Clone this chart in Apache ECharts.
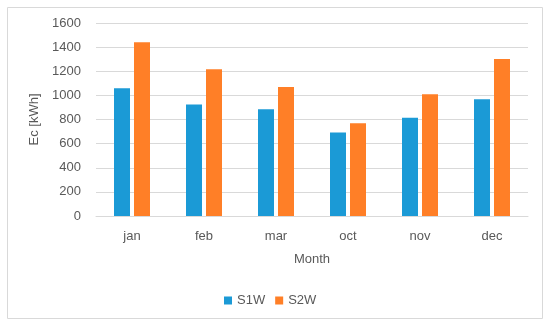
<!DOCTYPE html>
<html><head><meta charset="utf-8">
<script src="https://cdn.jsdelivr.net/npm/echarts@6/dist/echarts.min.js"></script>
<style>html,body{margin:0;padding:0;background:#fff}#c{width:550px;height:326px}</style>
</head><body><div id="c"></div>
<script>
const categories = ['jan','feb','mar','oct','nov','dec'];
const s1w = [1060, 925, 885, 693, 815, 967];
const s2w = [1440, 1216, 1070, 768, 1010, 1302];
const yTicks = {min: 0, max: 1600, interval: 200};
const font = 'Liberation Sans, Arial, sans-serif';
const chart = echarts.init(document.getElementById('c'));
chart.setOption({
  animation: false,
  graphic: [{type: 'rect', shape: {x: 7.5, y: 7.5, width: 535, height: 311}, style: {fill: 'none', stroke: '#D9D9D9', lineWidth: 1}}],
  grid: {left: 96, right: 22, top: 23, bottom: 110},
  legend: {
    data: ['S1W','S2W'], left: 219, top: 289, itemWidth: 8, itemHeight: 8, itemGap: 10,
    icon: 'rect', textStyle: {color: '#595959', fontSize: 13, fontFamily: font}
  },
  xAxis: {
    type: 'category', data: categories,
    name: 'Month', nameLocation: 'middle', nameGap: 37,
    nameTextStyle: {color: '#595959', fontSize: 13, fontFamily: font},
    axisLine: {lineStyle: {color: '#D9D9D9'}}, axisTick: {show: false},
    axisLabel: {color: '#595959', fontSize: 13, fontFamily: font, margin: 14}
  },
  yAxis: {
    type: 'value', min: yTicks.min, max: yTicks.max, interval: yTicks.interval,
    name: 'Ec [kWh]', nameLocation: 'middle', nameGap: 55,
    nameTextStyle: {color: '#595959', fontSize: 13, fontFamily: font},
    axisLine: {show: false}, axisTick: {show: false},
    axisLabel: {color: '#595959', fontSize: 13, fontFamily: font, margin: 15, formatter: v => String(v)},
    splitLine: {lineStyle: {color: '#D9D9D9'}}
  },
  series: [
    {name: 'S1W', type: 'bar', data: s1w, barWidth: 16, barGap: '25%', itemStyle: {color: '#1B9AD6'}},
    {name: 'S2W', type: 'bar', data: s2w, barWidth: 16, itemStyle: {color: '#FF7F27'}}
  ]
});
</script></body></html>
